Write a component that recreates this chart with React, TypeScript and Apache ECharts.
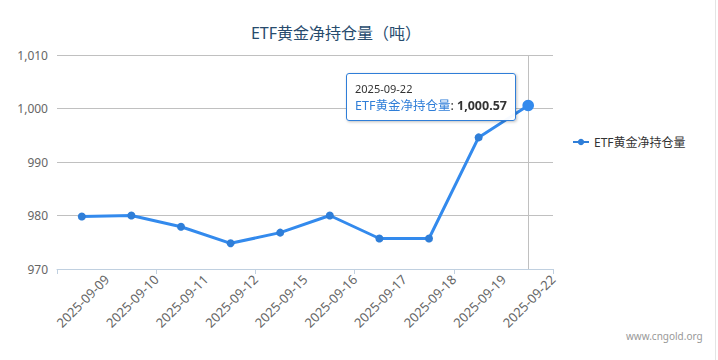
import React, { useEffect, useRef } from "react";
import * as echarts from "echarts";

const categories = [
  "2025-09-09", "2025-09-10", "2025-09-11", "2025-09-12", "2025-09-15",
  "2025-09-16", "2025-09-17", "2025-09-18", "2025-09-19", "2025-09-22",
];
const holdings = [979.8, 980.0, 977.9, 974.8, 976.8, 980.0, 975.7, 975.7, 994.6, 1000.57];
const seriesName = "ETF黄金净持仓量";
const titleText = "ETF黄金净持仓量（吨）";
const labelSlots = ["", ...categories];

const FONT = '"Noto Sans", "Noto Sans CJK SC", sans-serif';
const BLUE = "#2f7ed8";

export default function App() {
  const ref = useRef<HTMLDivElement>(null);
  useEffect(() => {
    if (!ref.current) return;
    const chart = echarts.init(ref.current, null, { renderer: "svg" });
    const fmt = (v: number) =>
      v.toLocaleString("en-US", { maximumFractionDigits: 2 });
    chart.setOption({
      animation: false,
      textStyle: { fontFamily: FONT },
      title: {
        text: titleText,
        left: 331,
        textAlign: "center",
        top: 20,
        textStyle: { fontSize: 16, fontWeight: "normal", color: "#274b6d", fontFamily: FONT },
      },
      legend: {
        orient: "vertical",
        left: 567,
        top: 131,
        itemWidth: 16,
        itemHeight: 8,
        itemGap: 6,
        data: [seriesName],
        textStyle: { fontSize: 12, color: "#333", fontFamily: FONT },
      },
      grid: { left: 57, right: 165, top: 55, bottom: 91 },
      tooltip: {
        trigger: "item",
        alwaysShowContent: true,
        position: () => [346, 73],
        backgroundColor: "rgba(255,255,255,0.96)",
        borderColor: BLUE,
        borderWidth: 1,
        borderRadius: 3,
        padding: [7, 8, 5, 8],
        extraCssText: "box-shadow: 1px 1px 3px rgba(0,0,0,0.25);",
        formatter: (p: any) =>
          `<div style="font-family:${FONT.replace(/"/g, "'")};line-height:1.45">` +
          `<div style="font-size:11px;color:#333">${p.name}</div>` +
          `<div style="font-size:12.5px;color:#333"><span style="color:${BLUE}">${p.seriesName}</span>: <b>${fmt(p.value)}</b></div></div>`,
      },
      xAxis: [
        {
          type: "category",
          data: categories,
          boundaryGap: true,
          axisLine: { lineStyle: { color: "#C0D0E0", width: 1 } },
          axisTick: { show: true, length: 5, lineStyle: { color: "#C0D0E0" } },
          axisLabel: { show: false },
          splitLine: { show: false },
        },
        {
          type: "category",
          data: labelSlots,
          boundaryGap: false,
          position: "bottom",
          axisLine: { show: false },
          axisTick: { show: false },
          axisLabel: {
            rotate: 45,
            interval: 0,
            margin: 8,
            fontSize: 13,
            color: "#666",
            fontFamily: FONT,
          },
          splitLine: { show: false },
        },
      ],
      yAxis: {
        type: "value",
        min: 970,
        max: 1010,
        interval: 10,
        axisLine: { show: false },
        axisTick: { show: false },
        axisLabel: {
          fontSize: 12,
          color: "#666",
          margin: 9,
          fontFamily: FONT,
          formatter: (v: number) => fmt(v),
        },
        splitLine: { lineStyle: { color: "#C0C0C0", width: 1 } },
      },
      series: [
        {
          name: seriesName,
          type: "line",
          xAxisIndex: 0,
          data: holdings,
          symbol: "circle",
          symbolSize: 8,
          itemStyle: { color: BLUE },
          lineStyle: { color: BLUE, width: 3 },
          emphasis: { scale: 1.45, lineStyle: { width: 3 } },
          markLine: {
            silent: true,
            symbol: "none",
            label: { show: false },
            lineStyle: { color: "#C0C0C0", width: 1, type: "solid" },
            data: [{ xAxis: categories[categories.length - 1] }],
            z: 1,
          },
        },
      ],
      graphic: [
        {
          type: "text",
          left: 626,
          top: 331,
          style: { text: "www.cngold.org", fontSize: 10, fill: "#999", fontFamily: FONT },
        },
        {
          type: "line",
          shape: { x1: 715.5, y1: 0, x2: 715.5, y2: 360 },
          style: { stroke: "#e4e4e4", lineWidth: 1 },
        },
      ],
    });
    const last = holdings.length - 1;
    chart.dispatchAction({ type: "highlight", seriesIndex: 0, dataIndex: last });
    chart.dispatchAction({ type: "showTip", seriesIndex: 0, dataIndex: last });
    return () => chart.dispose();
  }, []);
  return <div ref={ref} style={{ width: 718, height: 360, position: "absolute", left: 0, top: 0 }} />;
}
